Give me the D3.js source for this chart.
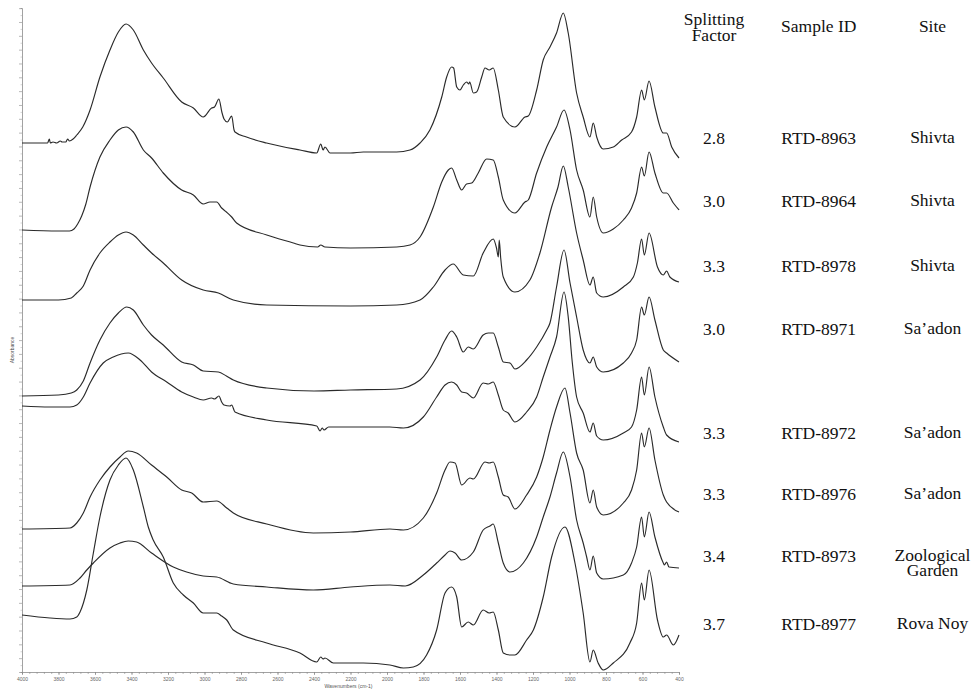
<!DOCTYPE html>
<html>
<head>
<meta charset="utf-8">
<script src="https://cdn.jsdelivr.net/npm/d3@7/dist/d3.min.js"></script>
<style>
  html, body { margin: 0; padding: 0; background: #fff; }
  svg { display: block; }
</style>
</head>
<body>
<svg id="chart" width="973" height="689"></svg>
<script>
// ---------------- DATA ----------------
const splittingFactors = ["2.8", "3.0", "3.3", "3.0", "3.3", "3.3", "3.4", "3.7"];
const sampleIds = ["RTD-8963", "RTD-8964", "RTD-8978", "RTD-8971", "RTD-8972", "RTD-8976", "RTD-8973", "RTD-8977"];
const sites = [["Shivta"], ["Shivta"], ["Shivta"], ["Sa\u2019adon"], ["Sa\u2019adon"], ["Sa\u2019adon"], ["Zoological", "Garden"], ["Rova Noy"]];
const headers = [["Splitting", "Factor"], ["Sample ID"], ["Site"]];
const xTickLabels = [4000, 3800, 3600, 3400, 3200, 3000, 2800, 2600, 2400, 2200, 2000, 1800, 1600, 1400, 1200, 1000, 800, 600, 400];

// spectra: [wavenumber (cm-1), absorbance (stacked, arbitrary units)]
const spec8963 = [[4000,5.29],[3930,5.29],[3860,5.29],[3850,5.33],[3845,5.29],[3830,5.30],[3810,5.29],[3790,5.31],[3780,5.30],[3760,5.30],[3750,5.33],[3740,5.31],[3720,5.33],[3700,5.37],[3667,5.45],[3627,5.62],[3573,5.95],[3518,6.22],[3472,6.40],[3430,6.48],[3390,6.42],[3335,6.22],[3290,6.09],[3226,5.94],[3125,5.70],[3061,5.64],[3007,5.55],[2961,5.64],[2945,5.65],[2921,5.73],[2905,5.60],[2893,5.53],[2875,5.50],[2851,5.56],[2838,5.42],[2833,5.40],[2770,5.35],[2660,5.29],[2477,5.22],[2385,5.19],[2363,5.28],[2350,5.22],[2340,5.25],[2312,5.19],[2200,5.19],[2130,5.20],[1947,5.20],[1874,5.22],[1819,5.29],[1765,5.42],[1700,5.75],[1673,5.95],[1646,6.05],[1635,6.04],[1618,5.85],[1600,5.82],[1582,5.87],[1564,5.90],[1552,5.88],[1547,5.90],[1527,5.79],[1509,5.80],[1481,5.95],[1463,6.04],[1440,6.02],[1418,6.04],[1390,5.82],[1363,5.55],[1299,5.45],[1244,5.55],[1226,5.56],[1180,5.82],[1144,6.12],[1107,6.25],[1071,6.39],[1034,6.59],[1007,6.39],[961,5.79],[925,5.55],[888,5.35],[870,5.49],[851,5.35],[815,5.23],[760,5.25],[714,5.32],[660,5.40],[632,5.55],[605,5.82],[590,5.72],[564,5.91],[532,5.65],[486,5.39],[468,5.39],[440,5.25],[400,5.14]];

const spec8964 = [[4000,4.42],[3800,4.41],[3740,4.41],[3715,4.43],[3695,4.48],[3673,4.56],[3650,4.68],[3627,4.85],[3573,5.15],[3518,5.32],[3472,5.42],[3430,5.45],[3390,5.40],[3335,5.22],[3290,5.14],[3226,4.99],[3125,4.82],[3061,4.77],[3007,4.68],[2970,4.70],[2933,4.70],[2906,4.64],[2880,4.60],[2851,4.55],[2824,4.49],[2659,4.37],[2513,4.29],[2477,4.27],[2380,4.25],[2363,4.27],[2340,4.25],[2200,4.24],[1947,4.25],[1874,4.27],[1819,4.35],[1746,4.65],[1700,4.90],[1664,5.02],[1646,5.04],[1618,4.92],[1591,4.82],[1564,4.88],[1536,4.89],[1500,4.99],[1454,5.13],[1418,5.12],[1390,4.95],[1363,4.72],[1299,4.59],[1244,4.70],[1226,4.72],[1180,4.99],[1125,5.25],[1071,5.45],[1030,5.62],[997,5.42],[961,5.02],[925,4.82],[888,4.55],[870,4.75],[851,4.55],[815,4.39],[760,4.43],[705,4.52],[660,4.64],[632,4.79],[605,5.05],[590,4.96],[564,5.20],[532,4.99],[486,4.79],[468,4.79],[431,4.69],[400,4.62]];

const spec8978 = [[4000,3.72],[3800,3.72],[3730,3.74],[3700,3.79],[3664,3.86],[3627,4.02],[3573,4.19],[3518,4.30],[3472,4.37],[3430,4.40],[3390,4.37],[3335,4.27],[3290,4.19],[3226,4.09],[3125,3.92],[3007,3.82],[2924,3.79],[2842,3.72],[2659,3.67],[2200,3.66],[1947,3.67],[1819,3.72],[1746,3.85],[1682,4.02],[1637,4.08],[1582,3.97],[1527,3.96],[1473,4.19],[1418,4.33],[1400,4.24],[1390,4.15],[1385,4.32],[1377,4.14],[1363,3.95],[1299,3.80],[1217,3.92],[1162,4.19],[1098,4.65],[1063,4.85],[1034,5.06],[1007,4.85],[961,4.39],[925,4.12],[888,3.87],[870,3.95],[851,3.79],[815,3.75],[705,3.85],[650,3.95],[628,4.09],[605,4.33],[590,4.17],[564,4.39],[518,4.05],[486,3.97],[468,4.01],[450,3.95],[400,3.90]];

const spec8971 = [[4000,2.76],[3800,2.77],[3730,2.79],[3700,2.82],[3664,2.91],[3627,3.09],[3573,3.32],[3518,3.49],[3472,3.59],[3426,3.65],[3390,3.62],[3335,3.47],[3290,3.37],[3226,3.27],[3125,3.10],[3061,3.07],[3007,3.01],[2924,3.00],[2880,2.96],[2842,2.92],[2659,2.84],[2400,2.81],[2200,2.82],[1947,2.83],[1819,2.92],[1728,3.15],[1682,3.32],[1646,3.41],[1618,3.35],[1582,3.20],[1555,3.25],[1527,3.23],[1473,3.37],[1445,3.39],[1418,3.39],[1390,3.25],[1363,3.10],[1326,3.09],[1299,3.03],[1235,3.12],[1180,3.25],[1125,3.42],[1107,3.49],[1071,3.85],[1030,4.22],[997,3.89],[961,3.55],[925,3.22],[888,3.09],[870,3.15],[851,3.05],[815,3.00],[705,3.09],[660,3.19],[632,3.32],[605,3.65],[590,3.57],[564,3.75],[532,3.52],[486,3.22],[468,3.19],[400,3.10]];

const spec8972 = [[4000,2.66],[3847,2.65],[3737,2.65],[3700,2.67],[3664,2.75],[3627,2.89],[3555,3.09],[3500,3.15],[3418,3.19],[3353,3.12],[3290,3.00],[3207,2.90],[3125,2.80],[3061,2.75],[3007,2.72],[2961,2.74],[2945,2.73],[2921,2.76],[2906,2.70],[2893,2.67],[2860,2.66],[2851,2.67],[2833,2.60],[2659,2.52],[2385,2.46],[2367,2.41],[2355,2.44],[2345,2.42],[2320,2.45],[2200,2.45],[1984,2.45],[1910,2.44],[1801,2.55],[1728,2.75],[1682,2.87],[1646,2.90],[1618,2.87],[1591,2.80],[1564,2.79],[1527,2.74],[1473,2.89],[1445,2.88],[1418,2.90],[1390,2.77],[1363,2.62],[1336,2.59],[1299,2.50],[1235,2.60],[1180,2.75],[1144,2.95],[1107,3.15],[1071,3.35],[1030,3.80],[1007,3.55],[985,3.10],[961,2.75],[925,2.59],[888,2.40],[870,2.49],[851,2.36],[815,2.32],[705,2.39],[660,2.45],[632,2.62],[605,2.95],[590,2.77],[564,3.05],[532,2.75],[486,2.45],[468,2.37],[400,2.30]];

const spec8976 = [[4000,1.43],[3737,1.44],[3700,1.49],[3664,1.59],[3627,1.75],[3573,1.92],[3518,2.05],[3463,2.15],[3418,2.21],[3372,2.19],[3290,2.07],[3207,1.95],[3125,1.82],[3070,1.79],[3007,1.70],[2933,1.71],[2878,1.64],[2842,1.59],[2659,1.48],[2404,1.39],[2200,1.40],[1984,1.43],[1910,1.42],[1801,1.54],[1728,1.79],[1682,2.02],[1655,2.10],[1627,2.09],[1591,1.87],[1545,1.94],[1527,1.93],[1463,2.10],[1440,2.09],[1418,2.10],[1390,1.95],[1363,1.77],[1336,1.75],[1299,1.63],[1235,1.77],[1180,1.95],[1144,2.15],[1107,2.42],[1071,2.65],[1025,2.84],[997,2.59],[961,2.19],[925,2.02],[888,1.69],[870,1.82],[851,1.65],[815,1.57],[705,1.69],[660,1.82],[632,2.02],[605,2.39],[590,2.25],[564,2.44],[532,2.12],[486,1.77],[468,1.70],[400,1.60]];

const spec8973 = [[4000,0.86],[3737,0.87],[3682,0.94],[3645,1.02],[3609,1.09],[3518,1.24],[3463,1.29],[3418,1.31],[3372,1.30],[3290,1.19],[3171,1.05],[3098,1.00],[3007,0.96],[2933,0.95],[2842,0.88],[2659,0.85],[2404,0.82],[2200,0.85],[1984,0.87],[1900,0.86],[1801,0.97],[1728,1.09],[1682,1.17],[1655,1.21],[1627,1.19],[1591,1.12],[1527,1.20],[1473,1.42],[1436,1.46],[1418,1.48],[1390,1.29],[1363,1.09],[1326,1.00],[1253,1.09],[1180,1.35],[1144,1.55],[1107,1.75],[1071,1.99],[1034,2.20],[997,1.95],[961,1.52],[925,1.29],[906,1.15],[888,1.02],[870,1.16],[851,0.99],[815,0.93],[705,0.97],[660,1.09],[632,1.25],[605,1.55],[590,1.35],[564,1.60],[532,1.35],[486,1.09],[480,1.07],[468,1.10],[455,1.05],[400,1.04]];

const spec8977 = [[4000,0.57],[3847,0.54],[3737,0.53],[3700,0.55],[3682,0.60],[3645,0.82],[3609,1.19],[3573,1.55],[3518,1.92],[3472,2.07],[3430,2.14],[3390,2.02],[3335,1.65],[3308,1.45],[3281,1.32],[3226,1.15],[3171,0.89],[3116,0.77],[3061,0.69],[3007,0.59],[2933,0.59],[2906,0.56],[2878,0.52],[2842,0.42],[2659,0.29],[2477,0.19],[2385,0.10],[2363,0.15],[2350,0.13],[2340,0.14],[2294,0.09],[2200,0.09],[2130,0.09],[1984,0.07],[1910,0.04],[1856,0.05],[1783,0.17],[1728,0.42],[1682,0.79],[1646,0.85],[1618,0.75],[1591,0.45],[1555,0.50],[1527,0.47],[1473,0.62],[1440,0.59],[1418,0.60],[1390,0.42],[1363,0.19],[1326,0.17],[1299,0.17],[1235,0.32],[1198,0.42],[1144,0.75],[1098,1.15],[1025,1.45],[970,1.09],[925,0.59],[888,0.10],[870,0.22],[843,0.09],[815,0.02],[760,0.09],[669,0.29],[632,0.49],[605,0.89],[590,0.72],[564,1.02],[518,0.52],[486,0.35],[468,0.37],[431,0.27],[400,0.37]];

const spectra = [spec8963, spec8964, spec8978, spec8971, spec8972, spec8976, spec8973, spec8977];

// ---------------- CHART ----------------
const svg = d3.select("#chart");
const plotLeft = 22, plotRight = 679, plotTop = 8, plotBottom = 672;

const x = d3.scaleLinear().domain([4000, 400]).range([plotLeft, plotRight]);
const y = d3.scaleLinear().domain([0, 6.64]).range([plotBottom, plotTop]);

const axisColor = "#8a8a8a";

// x axis minor ticks
const xMinor = d3.range(4000, 399, -40);
svg.append("g")
  .attr("transform", `translate(0,${plotBottom})`)
  .call(d3.axisBottom(x).tickValues(xMinor).tickSize(2).tickFormat(""))
  .call(g => g.selectAll("line").attr("stroke", axisColor).attr("stroke-width", 0.6))
  .call(g => g.select(".domain").attr("stroke", axisColor).attr("stroke-width", 0.8));

// x axis major ticks & labels
svg.append("g")
  .attr("transform", `translate(0,${plotBottom})`)
  .call(d3.axisBottom(x).tickValues(xTickLabels).tickSize(3).tickPadding(2).tickFormat(d3.format("d")))
  .call(g => g.select(".domain").remove())
  .call(g => g.selectAll("line").attr("stroke", axisColor).attr("stroke-width", 0.7))
  .call(g => g.selectAll("text").attr("fill", "#666").attr("font-size", "5px").attr("font-family", "Arial, 'Liberation Sans', sans-serif"));

// y axis
const yMajor = d3.range(0, 48.5, 1).map(i => i * 0.1383);
const yMinor = d3.range(0, 48, 1).map(i => (i + 0.5) * 0.1383);
svg.append("g")
  .attr("transform", `translate(${plotLeft},0)`)
  .call(d3.axisLeft(y).tickValues(yMinor).tickSize(1.5).tickFormat(""))
  .call(g => g.selectAll("line").attr("stroke", "#aaa").attr("stroke-width", 0.5))
  .call(g => g.select(".domain").attr("stroke", axisColor).attr("stroke-width", 0.8));
svg.append("g")
  .attr("transform", `translate(${plotLeft},0)`)
  .call(d3.axisLeft(y).tickValues(yMajor).tickSize(3).tickFormat(""))
  .call(g => g.select(".domain").remove())
  .call(g => g.selectAll("line").attr("stroke", axisColor).attr("stroke-width", 0.6));

// axis titles
svg.append("text")
  .attr("x", (plotLeft + plotRight) / 2 - 2)
  .attr("y", 687.5)
  .attr("text-anchor", "middle")
  .attr("font-size", "5px")
  .attr("font-family", "Arial, 'Liberation Sans', sans-serif")
  .attr("fill", "#555")
  .text("Wavenumbers (cm-1)");

svg.append("text")
  .attr("transform", `translate(13.5,${(plotTop + plotBottom) / 2 + 10}) rotate(-90)`)
  .attr("text-anchor", "middle")
  .attr("font-size", "5px")
  .attr("font-family", "Arial, 'Liberation Sans', sans-serif")
  .attr("fill", "#555")
  .text("Absorbance");

// spectra
const line = d3.line()
  .x(d => x(d[0]))
  .y(d => y(d[1]))
  .curve(d3.curveMonotoneX);

svg.append("g").selectAll("path")
  .data(spectra)
  .join("path")
  .attr("d", line)
  .attr("fill", "none")
  .attr("stroke", "#2a2a2a")
  .attr("stroke-width", 1.15)
  .attr("stroke-linejoin", "round");

// right-hand table
const colX = [714, 818.7, 932.5];
const rowBaselines = [144, 207, 272, 335, 438.5, 500, 562, 630];
const serif = "'Liberation Serif', 'Times New Roman', Times, serif";

const table = svg.append("g").attr("font-family", serif).attr("font-size", "17.5px").attr("fill", "#111").attr("text-anchor", "middle");

const headerBase = [24.5, 32, 32];
headers.forEach((lines, c) => {
  lines.forEach((t, k) => {
    table.append("text").attr("x", colX[c]).attr("y", headerBase[c] + k * 16).text(t);
  });
});

rowBaselines.forEach((yb, i) => {
  table.append("text").attr("x", colX[0]).attr("y", yb).text(splittingFactors[i]);
  table.append("text").attr("x", colX[1]).attr("y", yb).text(sampleIds[i]);
  sites[i].forEach((t, k) => {
    table.append("text").attr("x", colX[2]).attr("y", yb - 1 + k * 14.5).text(t);
  });
});
</script>
</body>
</html>
